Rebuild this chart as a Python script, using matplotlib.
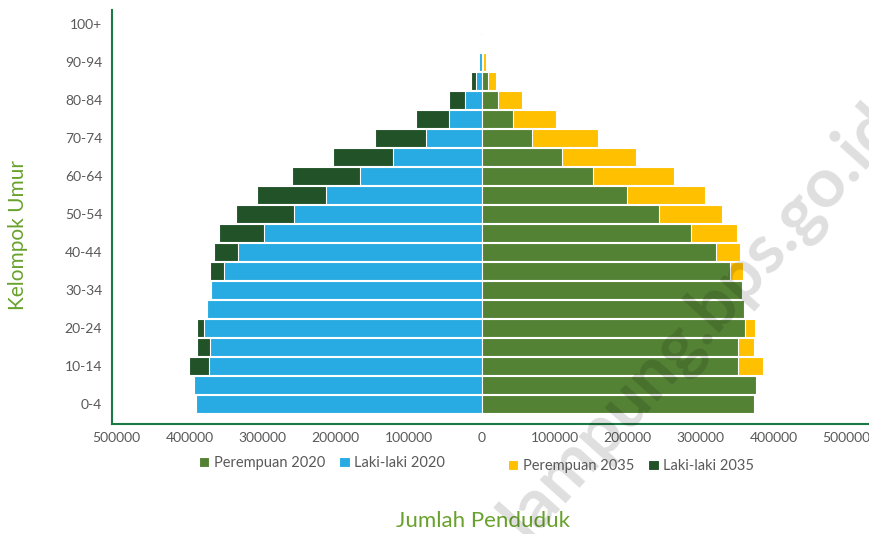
import matplotlib.pyplot as plt
import numpy as np

plt.rcParams['font.family'] = ['Lato', 'DejaVu Sans']

# age groups, bottom to top
age_groups = ["0-4", "5-9", "10-14", "15-19", "20-24", "25-29", "30-34", "35-39",
              "40-44", "45-49", "50-54", "55-59", "60-64", "65-69", "70-74",
              "75-79", "80-84", "85-89", "90-94", "95-99", "100+"]

laki_2020 = [391800, 393200, 373600, 371700, 379900, 375400, 370800, 353000,
             333300, 298600, 257100, 212700, 165800, 121000, 76300,
             45200, 22300, 7300, 3400, 1200, 400]
laki_2035 = [380000, 385000, 401000, 390000, 390000, 370000, 365000, 372600,
             367100, 359900, 336000, 307300, 260300, 204100, 146600,
             90400, 44800, 14700, 4400, 1500, 500]
perempuan_2020 = [373000, 375800, 351100, 350700, 361600, 359300, 357000, 340100,
                  321400, 286300, 243300, 199500, 152100, 110000, 69300,
                  43300, 22700, 8600, 2200, 700, 400]
perempuan_2035 = [360000, 374000, 385800, 373000, 374400, 355000, 350000, 358400,
                  354300, 350100, 330100, 305500, 263800, 212300, 158900,
                  101800, 54800, 20500, 5500, 1000, 300]

x_ticks = [-500000, -400000, -300000, -200000, -100000, 0,
           100000, 200000, 300000, 400000, 500000]

c_blue = '#27ABE2'
c_green = '#548235'
c_yellow = '#FFC000'
c_dark = '#215228'
c_title = '#68A22C'
c_axis = '#1A7A45'
c_tick = '#595959'

fig = plt.figure(figsize=(8.69, 5.34), dpi=100)
ax = fig.add_axes([112 / 869, 110 / 534, 757 / 869, 414 / 534])

y = np.arange(len(age_groups))
h = 0.92

# 2035 behind, 2020 in front
ax.barh(y, -np.array(laki_2035), height=h, color=c_dark, edgecolor='white', linewidth=0.8,
        label='Laki-laki 2035')
ax.barh(y, perempuan_2035, height=h, color=c_yellow, edgecolor='white', linewidth=0.8,
        label='Perempuan 2035')
ax.barh(y, -np.array(laki_2020), height=h, color=c_blue, edgecolor='white', linewidth=0.8,
        label='Laki-laki 2020')
ax.barh(y, perempuan_2020, height=h, color=c_green, edgecolor='white', linewidth=0.8,
        label='Perempuan 2020')

ax.set_xlim(-506200, 530800)
ax.set_ylim(-1.05, 20.74)

ax.set_xticks(x_ticks)
ax.set_xticklabels([str(abs(v)) for v in x_ticks], fontsize=10, color=c_tick)
ax.set_yticks(y[::2])
ax.set_yticklabels(age_groups[::2], fontsize=10, color=c_tick)
ax.tick_params(length=0, pad=6)
ax.tick_params(axis='y', pad=7)

for s in ['top', 'right']:
    ax.spines[s].set_visible(False)
for s in ['left', 'bottom']:
    ax.spines[s].set_color(c_axis)
    ax.spines[s].set_linewidth(1.5)

fig.text(18 / 869, 1 - 235 / 534, 'Kelompok Umur', rotation=90, ha='center', va='center',
         fontsize=15, color=c_title)
fig.text(483 / 869, 1 - 521 / 534, 'Jumlah Penduduk', ha='center', va='center',
         fontsize=16, color=c_title)

handles, labels = ax.get_legend_handles_labels()
hd = dict(zip(labels, handles))
leg_kw = dict(frameon=False, ncol=2, fontsize=10.5, handlelength=0.7, handleheight=0.7,
              handletextpad=0.3, columnspacing=1.0, labelcolor=c_tick)
fig.legend([hd['Perempuan 2020'], hd['Laki-laki 2020']],
           ['Perempuan 2020', 'Laki-laki 2020'],
           loc='center', bbox_to_anchor=(322 / 869, 1 - 463 / 534), **leg_kw)
fig.legend([hd['Perempuan 2035'], hd['Laki-laki 2035']],
           ['Perempuan 2035', 'Laki-laki 2035'],
           loc='center', bbox_to_anchor=(631 / 869, 1 - 466 / 534), **leg_kw)

# watermark
fig.text(700 / 869, 1 - 322 / 534, 'lampung.bps.go.id', rotation=48, ha='center',
         va='center', rotation_mode='anchor', fontsize=50, fontweight='bold',
         color='black', alpha=0.13)

fig.savefig('out.png', dpi=100)
